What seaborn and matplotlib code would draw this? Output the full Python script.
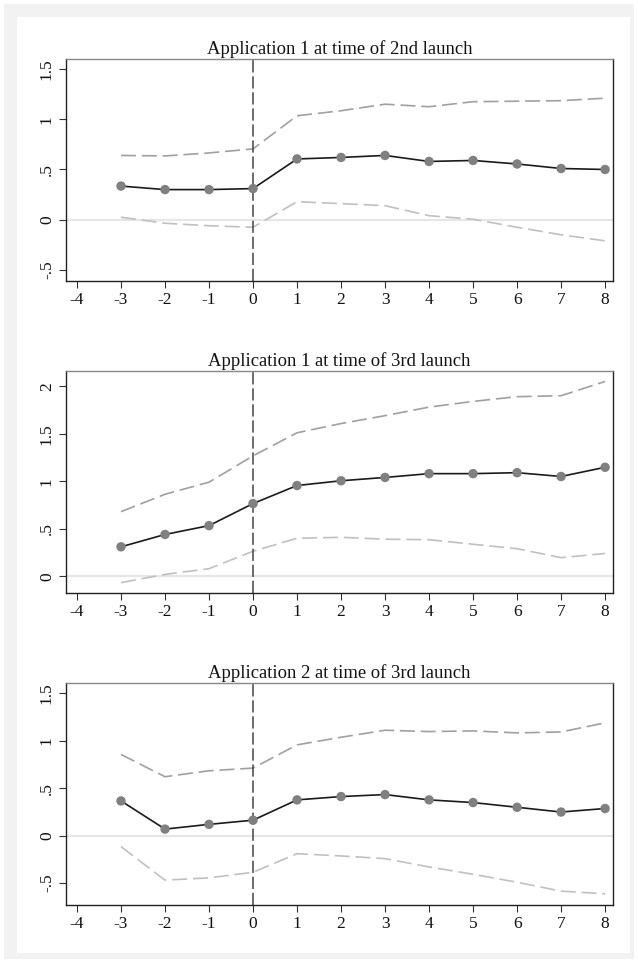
import matplotlib
matplotlib.use("Agg")
import matplotlib.pyplot as plt
import seaborn as sns
import pandas as pd
from matplotlib.patches import Rectangle

periods = [-3, -2, -1, 0, 1, 2, 3, 4, 5, 6, 7, 8]
x_ticks = [-4, -3, -2, -1, 0, 1, 2, 3, 4, 5, 6, 7, 8]

titles = ["Application 1 at time of 2nd launch",
          "Application 1 at time of 3rd launch",
          "Application 2 at time of 3rd launch"]

est_a1_2nd = [0.335, 0.30, 0.30, 0.31, 0.605, 0.62, 0.64, 0.58, 0.59, 0.555, 0.51, 0.50]
upper_a1_2nd = [0.64, 0.635, 0.665, 0.705, 1.035, 1.085, 1.15, 1.125, 1.175, 1.18, 1.185, 1.21]
lower_a1_2nd = [0.025, -0.035, -0.06, -0.075, 0.18, 0.16, 0.14, 0.04, 0.005, -0.075, -0.15, -0.21]

est_a1_3rd = [0.31, 0.44, 0.533, 0.765, 0.955, 1.005, 1.04, 1.08, 1.08, 1.09, 1.05, 1.147]
upper_a1_3rd = [0.68, 0.863, 0.99, 1.267, 1.51, 1.607, 1.69, 1.78, 1.84, 1.89, 1.90, 2.05]
lower_a1_3rd = [-0.067, 0.02, 0.08, 0.263, 0.40, 0.41, 0.39, 0.385, 0.337, 0.29, 0.196, 0.24]

est_a2_3rd = [0.367, 0.07, 0.12, 0.164, 0.378, 0.413, 0.434, 0.378, 0.35, 0.30, 0.25, 0.287]
upper_a2_3rd = [0.857, 0.622, 0.685, 0.713, 0.958, 1.038, 1.112, 1.098, 1.105, 1.084, 1.094, 1.19]
lower_a2_3rd = [-0.115, -0.468, -0.444, -0.385, -0.189, -0.213, -0.241, -0.329, -0.406, -0.49, -0.584, -0.612]

y_ticks_list = [[-0.5, 0, 0.5, 1, 1.5], [0, 0.5, 1, 1.5, 2], [-0.5, 0, 0.5, 1, 1.5]]
y_labels_list = [["-.5", "0", ".5", "1", "1.5"], ["0", ".5", "1", "1.5", "2"],
                 ["-.5", "0", ".5", "1", "1.5"]]
ylims = [(-0.61, 1.60), (-0.176, 2.16), (-0.73, 1.61)]

series = [(est_a1_2nd, upper_a1_2nd, lower_a1_2nd),
          (est_a1_3rd, upper_a1_3rd, lower_a1_3rd),
          (est_a2_3rd, upper_a2_3rd, lower_a2_3rd)]

sns.set_style("ticks")
plt.rcParams['font.family'] = ['Liberation Serif', 'DejaVu Serif']
plt.rcParams['font.size'] = 12

W, H = 638, 963
fig = plt.figure(figsize=(W / 100, H / 100), dpi=100)
fig.patch.set_facecolor('white')
fig.patches.append(Rectangle((4 / W, 4 / H), 630 / W, 955 / H, transform=fig.transFigure,
                             facecolor='#f2f2f2', edgecolor='none', zorder=-2))
fig.patches.append(Rectangle((17 / W, 10 / H), 613 / W, 936 / H, transform=fig.transFigure,
                             facecolor='white', edgecolor='none', zorder=-1))

left = 66 / W
width = (613 - 66) / W
height = 222 / H
bottoms = [1 - 281 / H, 1 - 593 / H, 1 - 905 / H]

for i in range(3):
    ax = fig.add_axes([left, bottoms[i], width, height])
    ax.set_facecolor('white')
    est, up, lo = series[i]
    df = pd.DataFrame({"t": periods, "est": est, "up": up, "lo": lo})
    ax.axhline(0, color='#e6e6e6', lw=1.6, zorder=1)
    sns.lineplot(data=df, x="t", y="up", ax=ax, color='#a0a0a0', lw=1.2,
                 zorder=2).lines[-1].set_dashes([9, 3.5])
    sns.lineplot(data=df, x="t", y="lo", ax=ax, color='#c0c0c0', lw=1.2,
                 zorder=2).lines[-1].set_dashes([9, 3.5])
    ax.axvline(0, color='#444444', lw=1.1, dashes=(8, 2.5), zorder=3)
    sns.lineplot(data=df, x="t", y="est", ax=ax, color='#1a1a1a', lw=1.2, zorder=4)
    sns.scatterplot(data=df, x="t", y="est", ax=ax, color='#808080', s=46,
                    edgecolor='none', zorder=5)
    ax.set_xlim(-4.25, 8.18)
    ax.set_ylim(*ylims[i])
    ax.set_xticks(x_ticks)
    ax.set_xticklabels([str(v) for v in x_ticks])
    ax.set_yticks(y_ticks_list[i])
    ax.set_yticklabels(y_labels_list[i], rotation=90, va='center')
    ax.set_xlabel("")
    ax.set_ylabel("")
    ax.set_title(titles[i], fontsize=13.4, pad=3.5, color='#111111')
    ax.tick_params(axis='both', direction='out', length=5, width=0.8,
                   color='#333333', labelsize=12.5, labelcolor='#111111', pad=3)
    for side in ['left', 'bottom', 'right']:
        ax.spines[side].set_color('#222222')
        ax.spines[side].set_linewidth(1.0)
    ax.spines['top'].set_color('#888888')
    ax.spines['top'].set_linewidth(1.0)
    ax.grid(False)

fig.savefig("out.png", dpi=100)
